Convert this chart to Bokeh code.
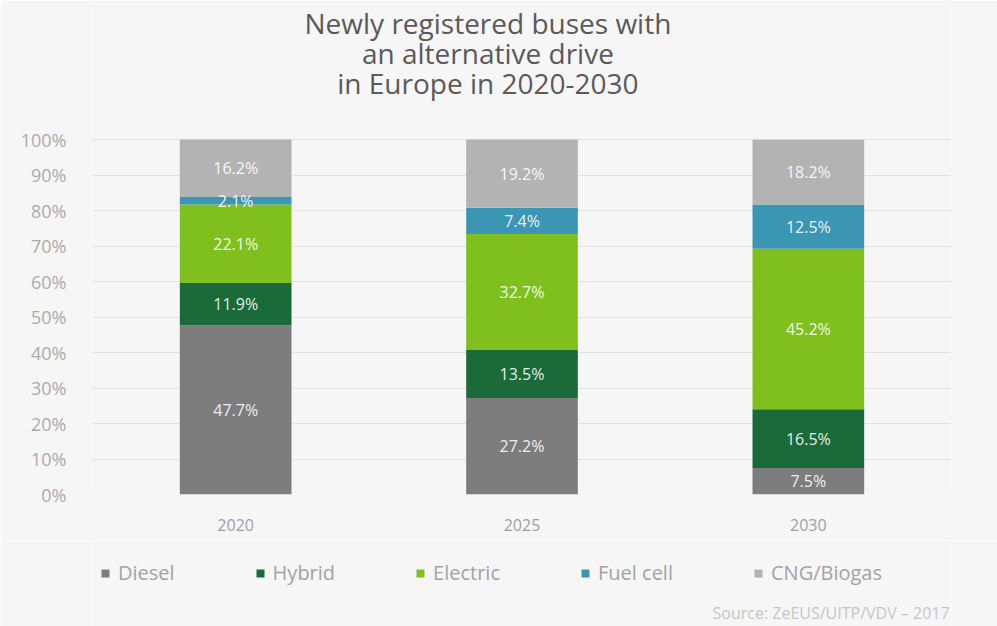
import numpy as np
from bokeh.plotting import figure
from bokeh.layouts import column
from bokeh.models import (ColumnDataSource, FactorRange, Range1d, Legend, LegendItem,
                          Label, FixedTicker, CustomJSTickFormatter)
from bokeh.core.properties import value
from bokeh.embed import file_html
from bokeh.resources import INLINE

years = ["2020", "2025", "2030"]
series = ["Diesel", "Hybrid", "Electric", "Fuel cell", "CNG/Biogas"]
diesel = [47.7, 27.2, 7.5]
hybrid = [11.9, 13.5, 16.5]
electric = [22.1, 32.7, 45.2]
fuel_cell = [2.1, 7.4, 12.5]
cng = [16.2, 19.2, 18.2]
colors = ["#7d7d7d", "#1b6a3a", "#80c01e", "#3a96b2", "#b3b3b3"]
y_ticks = [0, 10, 20, 30, 40, 50, 60, 70, 80, 90, 100]
title_lines = ["Newly registered buses with", "an alternative drive", "in Europe in 2020-2030"]
source_text = "Source: ZeEUS/UITP/VDV \u2013 2017"

FONT = "Open Sans"
BG = "#f6f6f6"

# layout constants (pixels)
W = 997
H_MAIN, H_LEG = 540, 86
FRAME_L, FRAME_R, FRAME_B = 92, 951, 494
PX_PER_PCT = 3.55
Y_TOP = 100 + 139 / PX_PER_PCT  # frame reaches the canvas top
CAT_PX = (FRAME_R - FRAME_L) / len(years)

data = {"year": years, "Diesel": diesel, "Hybrid": hybrid, "Electric": electric,
        "Fuel cell": fuel_cell, "CNG/Biogas": cng}
src = ColumnDataSource(data)

p = figure(x_range=FactorRange(*years, range_padding=0), y_range=Range1d(0, Y_TOP),
           width=W, height=H_MAIN, output_backend="svg", toolbar_location=None,
           min_border_left=FRAME_L, min_border_right=W - FRAME_R, min_border_top=0,
           min_border_bottom=H_MAIN - FRAME_B, title_location=None)
p.background_fill_color = BG
p.border_fill_color = BG
p.outline_line_color = None

p.vbar_stack(series, x="year", width=0.39, color=colors, source=src, line_color=None)

# value labels
vals = np.array([diesel, hybrid, electric, fuel_cell, cng])
cum = np.cumsum(vals, axis=0)
mids = cum - vals / 2
lx, ly, lt = [], [], []
for i in range(len(series)):
    for j, yr in enumerate(years):
        lx.append(yr)
        ly.append(mids[i, j])
        lt.append(f"{vals[i, j]:.1f}%")
lsrc = ColumnDataSource(dict(x=lx, y=ly, t=lt))
p.text(x="x", y="y", text="t", source=lsrc, text_align="center", text_baseline="middle",
       text_color="white", text_alpha=0.9, text_font_size="16px", text_font=value(FONT))

# axes
p.yaxis.ticker = FixedTicker(ticks=y_ticks)
p.yaxis.formatter = CustomJSTickFormatter(code="return tick + '%';")
p.yaxis.axis_line_color = None
p.yaxis.major_tick_line_color = None
p.yaxis.minor_tick_line_color = None
p.yaxis.major_label_standoff = 20
p.yaxis.major_label_text_font = FONT
p.yaxis.major_label_text_font_size = "18px"
p.yaxis.major_label_text_color = "#ababab"

p.xaxis.axis_line_color = None
p.xaxis.major_tick_line_color = None
p.xaxis.minor_tick_line_color = None
p.xaxis.major_label_standoff = 18
p.xaxis.major_label_text_font = FONT
p.xaxis.major_label_text_font_size = "16px"
p.xaxis.major_label_text_color = "#a0a0a0"

p.xgrid.grid_line_color = None
p.ygrid.grid_line_color = "#e2e2e2"
p.ygrid.grid_line_width = 1

# title lines (inside the frame, above the bars)
title_px = [22, 52, 82]
for txt, ty in zip(title_lines, title_px):
    p.add_layout(Label(x=1.381, y=(FRAME_B - ty) / PX_PER_PCT, text=txt,
                       text_align="center", text_baseline="middle",
                       text_font=FONT, text_font_size="28px", text_color="#5a5a5a"))

# ---- legend strip (second figure, same categories; bars lie outside its view) ----
p2 = figure(x_range=FactorRange(*years, range_padding=0), y_range=Range1d(500, 500 + H_LEG),
            width=W, height=H_LEG, output_backend="svg", toolbar_location=None,
            min_border=0, title_location=None)
p2.axis.visible = False
p2.grid.visible = False
p2.background_fill_color = BG
p2.border_fill_color = BG
p2.outline_line_color = None

swatches = p2.vbar_stack(series, x="year", width=0.39, color=colors, source=src,
                         line_color=None)
items = [LegendItem(label=s, renderers=[r]) for s, r in zip(series, swatches)]
legend = Legend(items=items, orientation="horizontal", location=(0, 32),
                spacing=80, glyph_width=10, glyph_height=10, label_standoff=8,
                label_text_font=FONT, label_text_font_size="20px",
                label_text_color="#a3a3a3", background_fill_alpha=0,
                border_line_alpha=0, padding=8, margin=0)
p2.add_layout(legend, "center")

p2.add_layout(Label(x=(712 - FRAME_L) / CAT_PX, y=514, text=source_text, text_align="left",
                    text_baseline="middle", text_font=FONT, text_font_size="16px",
                    text_color="#c6c6c6"))

layout = column(p, p2, spacing=0)
open("out.html", "w").write(file_html(layout, INLINE))
